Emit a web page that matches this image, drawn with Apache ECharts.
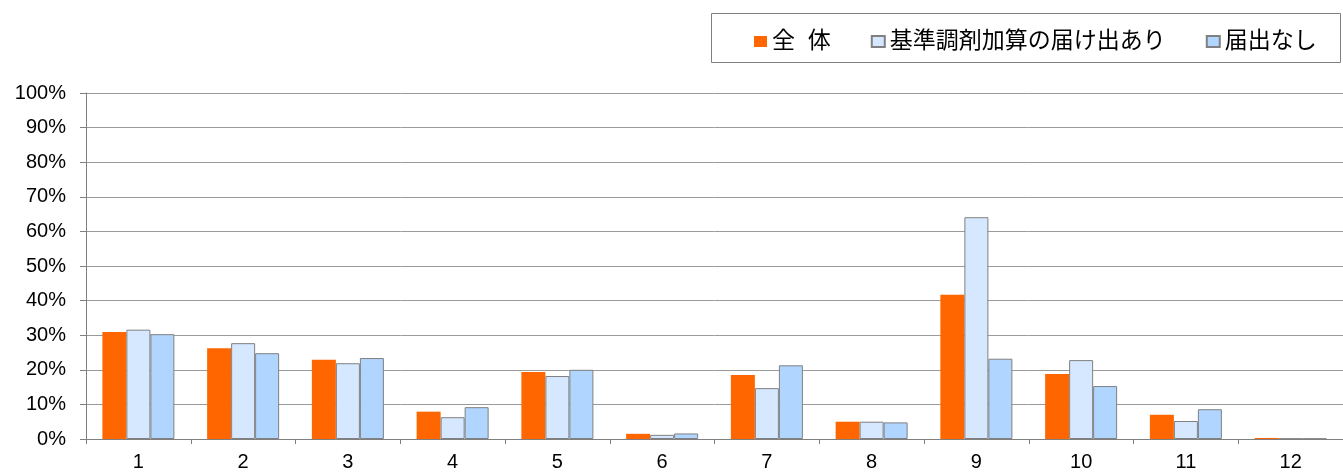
<!DOCTYPE html>
<html lang="ja">
<head>
    <meta charset="UTF-8">
    <title>chart</title>
    <style>
        body,html{
            margin: 0;
            height: 100%;
            width: 100%;
            background: #fff;
        }
    </style>
</head>
<body>
<div id="main" style="height: 473px; width: 1343px;"></div>
<script src="https://cdn.jsdelivr.net/npm/echarts@6/dist/echarts.min.js"></script>
<script>
    // data (percent)
    var categories = ['1', '2', '3', '4', '5', '6', '7', '8', '9', '10', '11', '12'];
    var seriesNames = ['全  体', '基準調剤加算の届け出あり', '届出なし'];
    var allValues = [30.9, 26.2, 22.9, 7.9, 19.4, 1.5, 18.5, 5.0, 41.7, 18.8, 7.0, 0.3];
    var withValues = [31.6, 27.7, 21.9, 6.3, 18.2, 1.2, 14.7, 5.0, 64.1, 22.8, 5.2, 0.1];
    var withoutValues = [30.3, 24.8, 23.4, 9.2, 20.0, 1.6, 21.3, 4.8, 23.2, 15.3, 8.6, 0.1];

    var font = 'Arial, "Liberation Sans", "Noto Sans CJK JP", sans-serif';
    var myChart = echarts.init(document.getElementById('main'));

    function bar(name, data, color, border) {
        return {
            name: name,
            type: 'bar',
            data: data,
            barWidth: 24,
            barGap: '0%',
            itemStyle: {
                color: color,
                borderColor: border ? '#808080' : color,
                borderWidth: border ? 1 : 0
            }
        };
    }

    myChart.setOption({
        animation: false,
        textStyle: { fontFamily: font },
        graphic: [{
            type: 'rect',
            left: 709,
            top: 11,
            shape: { width: 629, height: 49 },
            style: { fill: 'none', stroke: '#808080', lineWidth: 1 }
        }],
        legend: {
            left: 749,
            top: 25,
            itemWidth: 13,
            itemHeight: 11,
            itemGap: 40,
            icon: 'rect',
            textStyle: { fontSize: 23, color: '#000', fontFamily: font },
            data: seriesNames
        },
        grid: {
            left: 86,
            right: -13,
            top: 93,
            bottom: 34
        },
        xAxis: {
            type: 'category',
            data: categories,
            axisLine: { lineStyle: { color: '#808080' } },
            axisTick: { show: true, length: 5, lineStyle: { color: '#808080' } },
            axisLabel: { fontSize: 20, color: '#000', margin: 13 }
        },
        yAxis: {
            type: 'value',
            min: 0,
            max: 100,
            interval: 10,
            axisLine: { show: true, lineStyle: { color: '#808080' } },
            axisTick: { show: true, length: 6, lineStyle: { color: '#808080' } },
            axisLabel: { formatter: '{value}%', fontSize: 20, color: '#000', margin: 20 },
            splitLine: { lineStyle: { color: '#9a9a9a' } }
        },
        series: [
            bar(seriesNames[0], allValues, '#ff6600', false),
            bar(seriesNames[1], withValues, '#d5e8ff', true),
            bar(seriesNames[2], withoutValues, '#b0d5ff', true)
        ]
    });
</script>
</body>
</html>
